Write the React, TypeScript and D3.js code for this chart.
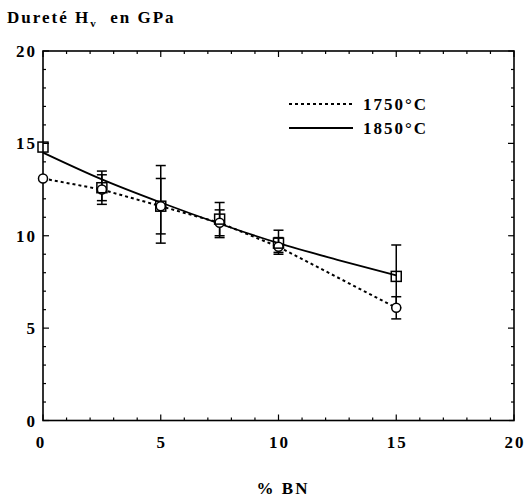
import React from "react";
import * as d3 from "d3";

const xTicks = [0, 5, 10, 15, 20];
const yTicks = [0, 5, 10, 15, 20];
const bnPercent = [0, 2.5, 5, 7.5, 10, 15];
const hard1750 = [13.1, 12.5, 11.6, 10.7, 9.4, 6.1];
const err1750Lo = [13.1, 11.9, 10.1, 10.0, 9.1, 5.5];
const err1750Hi = [13.1, 13.3, 13.1, 11.4, 9.9, 6.7];
const hard1850 = [14.8, 12.6, 11.6, 10.9, 9.6, 7.8];
const err1850Lo = [14.8, 11.7, 9.6, 9.9, 9.0, 6.1];
const err1850Hi = [14.8, 13.5, 13.8, 11.8, 10.3, 9.5];
const fitX = [0, 2.5, 5, 7.5, 10, 12.5, 15];
const fit1850 = [14.5, 13.05, 11.8, 10.65, 9.6, 8.7, 7.85];

const W = 528, H = 498;
const L = 43, R = 514, T = 51, B = 420.5;
const font = "Liberation Serif, DejaVu Serif, serif";

export default function App() {
  const x = d3.scaleLinear().domain([0, 20]).range([L, R]);
  const y = d3.scaleLinear().domain([0, 20]).range([B, T]);
  const minor = d3.range(0, 21, 1);
  const fitLine = d3.line<number>().x((_, i) => x(fitX[i])).y((d) => y(d)).curve(d3.curveMonotoneX)(fit1850) || "";
  const dotLine = d3.line<number>().x((_, i) => x(bnPercent[i])).y((d) => y(d))(hard1750) || "";
  const cap = 5;
  const bars = (lo: number[], hi: number[], key: string) =>
    bnPercent.map((v, i) =>
      lo[i] === hi[i] ? null : (
        <g key={key + i} stroke="#000" strokeWidth={1.5}>
          <line x1={x(v)} x2={x(v)} y1={y(lo[i])} y2={y(hi[i])} />
          <line x1={x(v) - cap} x2={x(v) + cap} y1={y(lo[i])} y2={y(lo[i])} />
          <line x1={x(v) - cap} x2={x(v) + cap} y1={y(hi[i])} y2={y(hi[i])} />
        </g>
      )
    );
  const ts = { fontFamily: font, fontWeight: 700, letterSpacing: "2px" } as React.CSSProperties;
  return (
    <svg width={W} height={H} style={{ position: "absolute", left: 0, top: 0, background: "#fff" }}>
      <rect x={0} y={0} width={W} height={H} fill="#fff" />
      <text x={7} y={23} style={ts} fontSize={17}>
        Dureté H<tspan dy={4} fontSize={11}>v</tspan><tspan dy={-4}>{"\u00a0 en GPa"}</tspan>
      </text>
      <rect x={L} y={T} width={R - L} height={B - T} fill="none" stroke="#000" strokeWidth={1.6} />
      {minor.map((t) => {
        const len = t % 5 === 0 ? 6 : 3;
        return (
          <g key={"t" + t} stroke="#000" strokeWidth={1.2}>
            <line x1={L} x2={L + len} y1={y(t)} y2={y(t)} />
            <line x1={R} x2={R - len} y1={y(t)} y2={y(t)} />
            <line x1={x(t)} x2={x(t)} y1={B} y2={B - len} />
            <line x1={x(t)} x2={x(t)} y1={T} y2={T + len} />
          </g>
        );
      })}
      {yTicks.map((t) => (
        <text key={"yl" + t} x={L - 6} y={y(t) + 6} textAnchor="end" style={ts} fontSize={17}>
          {t}
        </text>
      ))}
      {xTicks.map((t) => (
        <text key={"xl" + t} x={x(t) - (t === 0 ? 2 : -1)} y={B + 27} textAnchor="middle" style={ts} fontSize={17}>
          {t}
        </text>
      ))}
      <text x={283} y={494} textAnchor="middle" style={ts} fontSize={17}>
        % BN
      </text>
      <path d={fitLine} fill="none" stroke="#000" strokeWidth={1.8} />
      <path d={dotLine} fill="none" stroke="#000" strokeWidth={2} strokeDasharray="3,3" />
      {bars(err1850Lo, err1850Hi, "b")}
      {bars(err1750Lo, err1750Hi, "c")}
      {bnPercent.map((v, i) => (
        <circle key={"c" + i} cx={x(v)} cy={y(hard1750[i])} r={4.5} fill="#fff" stroke="#000" strokeWidth={1.5} />
      ))}
      {bnPercent.map((v, i) => (
        <rect key={"s" + i} x={x(v) - 5} y={y(hard1850[i]) - 5} width={10} height={10} fill="none" stroke="#000" strokeWidth={1.5} />
      ))}
      <line x1={289} x2={354} y1={104} y2={104} stroke="#000" strokeWidth={2} strokeDasharray="3,3" />
      <text x={363} y={110} style={ts} fontSize={17}>1750°C</text>
      <line x1={289} x2={353} y1={128} y2={128} stroke="#000" strokeWidth={1.8} />
      <text x={363} y={134} style={ts} fontSize={17}>1850°C</text>
    </svg>
  );
}
